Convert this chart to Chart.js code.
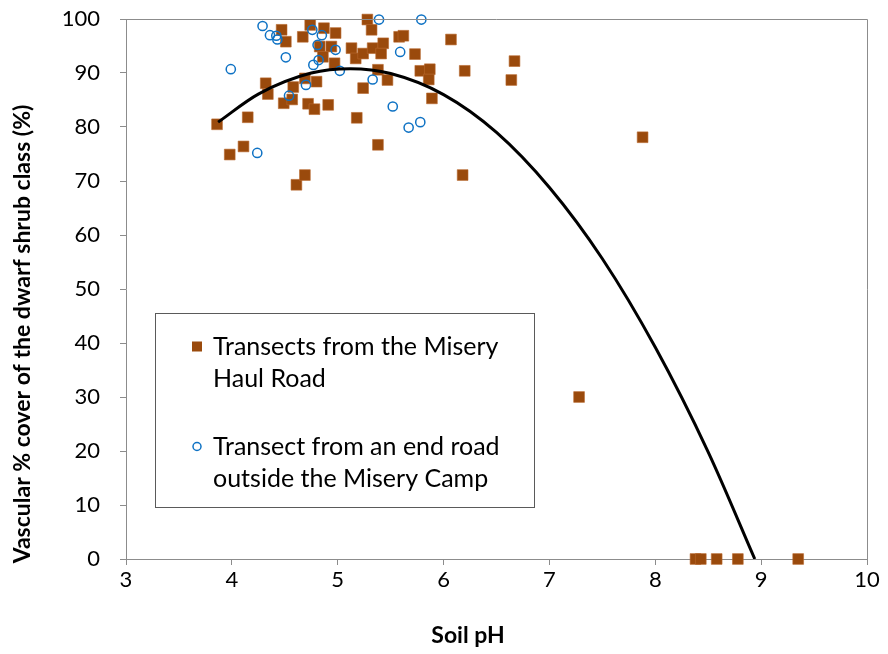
<!DOCTYPE html>
<html>
<head>
<meta charset="utf-8">
<script src="https://cdn.jsdelivr.net/npm/chart.js@4"></script>
<style>
  html, body { margin: 0; padding: 0; background: #fff; }
  #wrap { width: 888px; height: 654px; }
</style>
</head>
<body>
<div id="wrap"><canvas id="chart" width="888" height="654"></canvas></div>
<script>
// Transects from the Misery Haul Road (brown squares)
const haulPH = [3.86, 3.98, 4.11, 4.15, 4.32, 4.34, 4.47, 4.51, 4.49, 4.58, 4.57, 4.61, 4.69, 4.67, 4.74,
    4.72, 4.78, 4.69, 4.80, 4.87, 4.98, 4.83, 4.94, 4.86, 4.97, 4.91, 5.13, 5.17, 5.24, 5.28, 5.32, 5.33,
    5.43, 5.41, 5.38, 5.47, 5.24, 5.18, 5.38, 5.58, 5.62, 5.73, 5.78, 5.87, 5.86, 5.89, 6.07, 6.20, 6.18,
    6.64, 6.67, 7.88, 7.28, 8.38, 8.43, 8.58, 8.78, 9.35];
const haulCover = [80.5, 74.9, 76.4, 81.8, 88.1, 86.1, 98.0, 95.8, 84.4, 87.4, 85.1, 69.3, 71.1, 96.7, 98.9,
    84.3, 83.3, 89.0, 88.4, 98.3, 97.4, 94.9, 94.9, 93.0, 91.8, 84.1, 94.6, 92.7, 93.6, 99.9, 98.0, 94.6,
    95.5, 93.6, 90.6, 88.7, 87.2, 81.7, 76.7, 96.7, 96.9, 93.5, 90.4, 90.7, 88.8, 85.3, 96.2, 90.4, 71.1,
    88.7, 92.2, 78.1, 30.0, 0, 0, 0, 0, 0];

// Transect from an end road outside the Misery Camp (blue circles)
const campPH = [3.99, 4.24, 4.29, 4.36, 4.42, 4.43, 4.51, 4.54, 4.70, 4.76, 4.85, 4.81, 4.82, 4.77, 4.98,
    5.02, 5.33, 5.39, 5.59, 5.79, 5.52, 5.67, 5.78];
const campCover = [90.7, 75.2, 98.7, 97.0, 96.9, 96.2, 92.9, 85.8, 87.8, 98.0, 97.0, 95.2, 92.4, 91.5, 94.3,
    90.4, 88.8, 99.9, 93.9, 99.9, 83.8, 79.9, 80.9];

// trend curve
const curvePH = [3.87, 4.25, 4.75, 5.12, 5.5, 6.0, 6.5, 7.0, 7.5, 8.0, 8.5, 8.94];
const curveCover = [80.9, 86.1, 90.0, 90.8, 89.9, 86.0, 79.0, 68.8, 55.6, 39.2, 19.8, 0];

const xTicks = [3, 4, 5, 6, 7, 8, 9, 10];

const legendLabels = [
    ["Transects from the Misery", "Haul Road"],
    ["Transect from an end road", "outside the Misery Camp"],
];
const xTitle = "Soil pH";
const yTitle = "Vascular % cover of the dwarf shrub class (%)";

const brown = "#9A4A0C";
const blue = "#0E72C4";
const font = "Lato, 'Open Sans', sans-serif";

function toPoints(xs, ys) {
    return xs.map((x, i) => ({ x: x, y: ys[i] }));
}

// Plot frame (top and right edges), axis titles and the boxed legend
const framePlugin = {
    id: "frame",
    afterDraw(chart) {
        const ctx = chart.ctx;
        const a = chart.chartArea;
        ctx.save();
        ctx.strokeStyle = "#8c8c8c";
        ctx.lineWidth = 1;
        ctx.beginPath();
        ctx.moveTo(a.left, a.top + 0.5);
        ctx.lineTo(a.right + 0.5, a.top + 0.5);
        ctx.lineTo(a.right + 0.5, a.bottom);
        ctx.stroke();

        // axis titles
        ctx.fillStyle = "#000";
        ctx.textAlign = "center";
        ctx.textBaseline = "middle";
        ctx.font = "bold 23px " + font;
        ctx.fillText(xTitle, 468, 636);
        ctx.save();
        ctx.translate(23, 334);
        ctx.rotate(-Math.PI / 2);
        ctx.fillText(yTitle, 0, 0);
        ctx.restore();

        // legend box
        const bx = 155.5, by = 313.5, bw = 379, bh = 194;
        ctx.fillStyle = "#fff";
        ctx.fillRect(bx, by, bw, bh);
        ctx.strokeStyle = "#5a5a5a";
        ctx.strokeRect(bx, by, bw, bh);

        ctx.font = "25px " + font;
        ctx.textBaseline = "middle";
        ctx.textAlign = "left";
        const rows = [346.5, 446.5];
        rows.forEach((ry, i) => {
            if (i === 0) {
                ctx.fillStyle = brown;
                ctx.fillRect(192, ry - 5, 10, 10);
            } else {
                ctx.strokeStyle = blue;
                ctx.lineWidth = 1.5;
                ctx.beginPath();
                ctx.arc(197, ry, 4, 0, Math.PI * 2);
                ctx.stroke();
            }
            ctx.fillStyle = "#000";
            legendLabels[i].forEach((line, j) => {
                ctx.fillText(line, 213, ry + j * 32);
            });
        });
        ctx.restore();
    },
};

new Chart(document.getElementById("chart"), {
    type: "scatter",
    data: {
        datasets: [
            {
                label: legendLabels[0].join(" "),
                data: toPoints(haulPH, haulCover),
                pointStyle: "rect",
                pointRadius: 7.6,
                backgroundColor: brown,
                borderColor: "#b9682e",
                borderWidth: 0.6,
                clip: false,
                order: 3,
            },
            {
                label: legendLabels[1].join(" "),
                data: toPoints(campPH, campCover),
                pointStyle: "circle",
                pointRadius: 4.6,
                backgroundColor: "rgba(255,255,255,0)",
                borderColor: blue,
                borderWidth: 1.5,
                clip: false,
                order: 2,
            },
            {
                label: "trend",
                type: "line",
                data: toPoints(curvePH, curveCover),
                borderColor: "#000",
                borderWidth: 3,
                pointRadius: 0,
                cubicInterpolationMode: "monotone",
                fill: false,
                order: 1,
            },
        ],
    },
    options: {
        responsive: false,
        animation: false,
        layout: { padding: { top: 19, right: 21, left: 0, bottom: 0 } },
        plugins: {
            legend: { display: false },
            tooltip: { enabled: false },
        },
        scales: {
            x: {
                type: "linear",
                min: 3,
                max: 10,
                afterBuildTicks: (scale) => {
                    scale.ticks = xTicks.map((v) => ({ value: v }));
                },
                afterFit: (scale) => {
                    scale.height = 95;
                    scale.paddingLeft = 0;
                    scale.paddingRight = 0;
                },
                grid: {
                    display: true,
                    drawOnChartArea: false,
                    drawTicks: true,
                    tickLength: 6,
                    color: "#8c8c8c",
                },
                border: { color: "#8c8c8c" },
                ticks: {
                    color: "#000",
                    padding: 2,
                    font: { family: font, size: 22 },
                },
            },
            y: {
                min: 0,
                max: 100,
                afterFit: (scale) => {
                    scale.width = 126;
                    scale.paddingTop = 0;
                    scale.paddingBottom = 0;
                },
                ticks: {
                    stepSize: 10,
                    color: "#000",
                    padding: 20,
                    font: { family: font, size: 22 },
                },
                grid: {
                    display: true,
                    drawOnChartArea: false,
                    drawTicks: true,
                    tickLength: 6,
                    color: "#8c8c8c",
                },
                border: { color: "#8c8c8c" },
            },
        },
    },
    plugins: [framePlugin],
});
</script>
</body>
</html>
